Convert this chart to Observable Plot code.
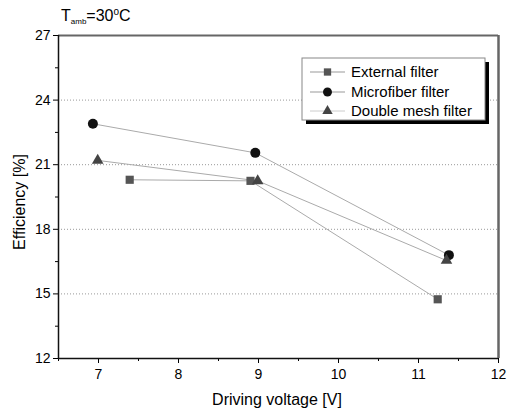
<!DOCTYPE html>
<html>
<head>
<meta charset="utf-8">
<script src="https://cdn.jsdelivr.net/npm/d3@7"></script>
<script src="https://cdn.jsdelivr.net/npm/@observablehq/plot@0.6"></script>
<style>
  body { margin: 0; background: #fff; }
  svg { font-family: "Liberation Sans", Arial, sans-serif; }
</style>
</head>
<body>
<div id="chart"></div>
<script>
// Efficiency vs. driving voltage for three filter types
const seriesNames = ["External filter", "Microfiber filter", "Double mesh filter"];
const externalV = [7.39, 8.9, 11.24];
const externalEff = [20.3, 20.25, 14.75];
const microV = [6.93, 8.96, 11.38];
const microEff = [22.9, 21.55, 16.8];
const meshV = [6.99, 8.99, 11.35];
const meshEff = [21.2, 20.25, 16.55];
const xTicks = [7, 8, 9, 10, 11, 12];
const xMinor = [6.5, 7.5, 8.5, 9.5, 10.5, 11.5];
const yTicks = [12, 15, 18, 21, 24, 27];
const yMinor = [13.5, 16.5, 19.5, 22.5, 25.5];
const gridLevels = [15, 18, 21, 24];

const symbols = ["square", "circle", "triangle"];
const fills = ["#555", "#111", "#444"];
const sizes = [4.6, 5, 4.3];

const rows = [];
[[externalV, externalEff], [microV, microEff], [meshV, meshEff]].forEach(([xs, ys], s) => {
  xs.forEach((v, i) => rows.push({series: seriesNames[s], v, eff: ys[i]}));
});

const plot = Plot.plot({
  width: 514,
  height: 410,
  marginLeft: 58,
  marginRight: 16,
  marginTop: 35,
  marginBottom: 52,
  style: {fontFamily: "'Liberation Sans', Arial, sans-serif", fontSize: "13px", color: "#000"},
  x: {domain: [6.5, 12]},
  y: {domain: [12, 27]},
  marks: [
    Plot.gridY(gridLevels, {stroke: "#999", strokeOpacity: 1, strokeDasharray: "1,2"}),
    Plot.axisX({ticks: xTicks, tickSize: 5, tickPadding: 6, fontSize: 14, label: null, tickFormat: d => String(d)}),
    Plot.axisX({ticks: xMinor, tickSize: 3, tickFormat: () => "", label: null}),
    Plot.axisY({ticks: yTicks, tickSize: 5, tickPadding: 3, fontSize: 14, label: null, tickFormat: d => String(d)}),
    Plot.axisY({ticks: yMinor, tickSize: 3, tickFormat: () => "", label: null}),
    Plot.ruleY([27], {stroke: "#666", strokeWidth: 2}),
    Plot.ruleY([12], {stroke: "#111", strokeWidth: 1.5}),
    Plot.ruleX([6.5], {stroke: "#111", strokeWidth: 1.5}),
    Plot.ruleX([12], {stroke: "#666", strokeWidth: 2.5}),
    Plot.line(rows, {x: "v", y: "eff", z: "series", stroke: "#aaa", strokeWidth: 1}),
    ...seriesNames.map((name, s) =>
      Plot.dot(rows.filter(d => d.series === name), {
        x: "v", y: "eff", symbol: () => symbols[s], r: sizes[s], fill: fills[s], stroke: "none"
      }))
  ]
});

const svg = d3.select(plot);

// Title with subscript
const title = svg.append("text")
  .attr("x", 61).attr("y", 21)
  .attr("text-anchor", "start")
  .attr("font-size", 16).attr("fill", "#000");
title.append("tspan").text("T");
title.append("tspan").attr("font-size", 8).attr("dy", 3).text("amb");
title.append("tspan").attr("dy", -3).text("=30");
title.append("tspan").attr("font-size", 10).attr("dy", -6).text("o");
title.append("tspan").attr("dy", 6).text("C");

// Axis titles
svg.append("text")
  .attr("x", 277).attr("y", 405)
  .attr("text-anchor", "middle").attr("font-size", 16).attr("fill", "#000")
  .text("Driving voltage [V]");
svg.append("text")
  .attr("transform", "translate(25,202) rotate(-90)")
  .attr("text-anchor", "middle").attr("font-size", 16).attr("fill", "#000")
  .text("Efficiency [%]");

// Legend box with drop shadow
const lg = svg.append("g");
lg.append("rect").attr("x", 306).attr("y", 62).attr("width", 183).attr("height", 62).attr("fill", "#000");
lg.append("rect").attr("x", 302).attr("y", 58).attr("width", 183).attr("height", 62)
  .attr("fill", "#fff").attr("stroke", "#888").attr("stroke-width", 1);
const rowY = [72, 92, 111];
const lineColors = ["#999", "#999", "#ccc"];
seriesNames.forEach((name, s) => {
  const y = rowY[s];
  lg.append("line").attr("x1", 310).attr("x2", 345).attr("y1", y).attr("y2", y)
    .attr("stroke", lineColors[s]).attr("stroke-width", 1);
  lg.append("path")
    .attr("transform", `translate(327.5,${y})`)
    .attr("d", d3.symbol(
      [d3.symbolSquare, d3.symbolCircle, d3.symbolTriangle][s],
      Math.PI * sizes[s] * sizes[s] * 0.8)())
    .attr("fill", fills[s]);
  lg.append("text").attr("x", 351).attr("y", y + 5)
    .attr("text-anchor", "start")
    .attr("font-size", 15).attr("fill", "#000").text(name);
});

document.getElementById("chart").appendChild(plot);
</script>
</body>
</html>
